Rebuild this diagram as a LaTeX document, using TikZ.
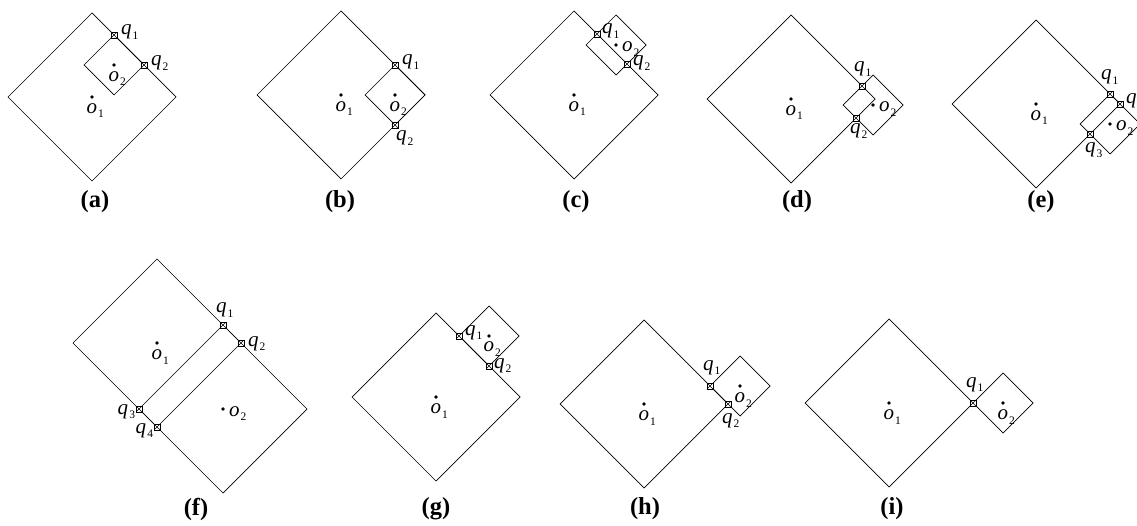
\documentclass[tikz,border=0pt]{standalone}
\usepackage{fontspec}
\setmainfont{Liberation Serif}
\newcommand\lb[2]{{\fontsize{21}{21}\selectfont\itshape #1}\kern1.2pt\raisebox{-4.5pt}{\fontsize{11.5}{11.5}\selectfont #2}}
\newcommand\dsq[2]{\draw[sqline] (#1) ++(-#2,0) -- ++(#2,-#2) -- ++(#2,#2) -- ++(-#2,#2) -- cycle;}
\begin{document}
\begin{tikzpicture}[x=1pt,y=-1pt,
  sqline/.style={line width=0.7pt,black},
  mk/.style={draw,fill=white,minimum size=6pt,inner sep=0pt,line width=0.5pt,
    path picture={\draw[line width=0.4pt] (path picture bounding box.south west) -- (path picture bounding box.north east)
      (path picture bounding box.north west) -- (path picture bounding box.south east);}},
  dot/.style={circle,fill=black,inner sep=0pt,minimum size=3.8pt},
  lbl/.style={anchor=base west,inner sep=0pt,outer sep=0pt},
  lblr/.style={anchor=base east,inner sep=0pt,outer sep=0pt},
  paneltag/.style={font=\fontsize{24.5}{24.5}\selectfont\bfseries,inner sep=0pt}]
\useasboundingbox (0,0) rectangle (1137,526);
\clip (0,0) rectangle (1137,526);

% ---------- (a)
\coordinate (a-o1) at (92,97);
\coordinate (a-o2) at (114,65);
\dsq{a-o1}{84}
\dsq{a-o2}{30}
\node[dot] (a-d1) at (a-o1) {};
\node[dot] (a-d2) at (a-o2) {};
\node[mk] (a-q1) at (114,35) {};
\node[mk] (a-q2) at (144,65) {};
\node[lbl] (a-lo1) at (86.5,113.5) {\lb{o}{1}};
\node[lbl] (a-lo2) at (108.5,81.5) {\lb{o}{2}};
\node[lbl] (a-lq1) at (121,35) {\lb{q}{1}};
\node[lbl] (a-lq2) at (151,66) {\lb{q}{2}};
\node[paneltag] (a-tag) at (95,202) {(a)};

% ---------- (b)
\coordinate (b-o1) at (341,95);
\coordinate (b-o2) at (395,95);
\dsq{b-o1}{84}
\dsq{b-o2}{30}
\node[dot] (b-d1) at (b-o1) {};
\node[dot] (b-d2) at (b-o2) {};
\node[mk] (b-q1) at (395,65) {};
\node[mk] (b-q2) at (395,125) {};
\node[lbl] (b-lo1) at (335.5,111.5) {\lb{o}{1}};
\node[lbl] (b-lo2) at (389.5,111.5) {\lb{o}{2}};
\node[lbl] (b-lq1) at (402,65) {\lb{q}{1}};
\node[lbl] (b-lq2) at (396,141) {\lb{q}{2}};
\node[paneltag] (b-tag) at (340,202) {(b)};

% ---------- (c)
\coordinate (c-o1) at (574,95);
\coordinate (c-o2) at (616,45);
\dsq{c-o1}{84}
\dsq{c-o2}{30}
\node[dot] (c-d1) at (c-o1) {};
\node[dot] (c-d2) at (c-o2) {};
\node[mk] (c-q1) at (597,34) {};
\node[mk] (c-q2) at (627,64) {};
\node[lbl] (c-lo1) at (568.5,111.5) {\lb{o}{1}};
\node[lbl] (c-lo2) at (622,52) {\lb{o}{2}};
\node[lbl] (c-lq1) at (602,34) {\lb{q}{1}};
\node[lbl] (c-lq2) at (633,66) {\lb{q}{2}};
\node[paneltag] (c-tag) at (576,202) {(c)};

% ---------- (d)
\coordinate (d-o1) at (791,99);
\coordinate (d-o2) at (873,105);
\dsq{d-o1}{84}
\dsq{d-o2}{30}
\node[dot] (d-d1) at (d-o1) {};
\node[dot] (d-d2) at (d-o2) {};
\node[mk] (d-q1) at (862,86) {};
\node[mk] (d-q2) at (856,118) {};
\node[lbl] (d-lo1) at (785.5,115.5) {\lb{o}{1}};
\node[lbl] (d-lo2) at (879,112) {\lb{o}{2}};
\node[lbl] (d-lq1) at (854,72) {\lb{q}{1}};
\node[lbl] (d-lq2) at (850,134) {\lb{q}{2}};
\node[paneltag] (d-tag) at (797,202) {(d)};

% ---------- (e)
\coordinate (e-o1) at (1036,104);
\coordinate (e-o2) at (1110,124);
\dsq{e-o1}{84}
\dsq{e-o2}{30}
\node[dot] (e-d1) at (e-o1) {};
\node[dot] (e-d2) at (e-o2) {};
\node[mk] (e-q1) at (1110,94) {};
\node[mk] (e-q2) at (1120,104) {};
\node[mk] (e-q3) at (1090,134) {};
\node[lbl] (e-lo1) at (1030.5,120.5) {\lb{o}{1}};
\node[lbl] (e-lo2) at (1116,131) {\lb{o}{2}};
\node[lbl] (e-lq1) at (1101,80) {\lb{q}{1}};
\node[lbl] (e-lq2) at (1126,104) {\lb{q}{2}};
\node[lbl] (e-lq3) at (1085,153) {\lb{q}{3}};
\node[paneltag] (e-tag) at (1041,202) {(e)};

% ---------- (f)
\coordinate (f-o1) at (157,343);
\coordinate (f-o2) at (223,409);
\dsq{f-o1}{84}
\dsq{f-o2}{84}
\node[dot] (f-d1) at (f-o1) {};
\node[dot] (f-d2) at (f-o2) {};
\node[mk] (f-q1) at (223,325) {};
\node[mk] (f-q2) at (241,343) {};
\node[mk] (f-q3) at (139,409) {};
\node[mk] (f-q4) at (157,427) {};
\node[lbl] (f-lo1) at (151.5,359.5) {\lb{o}{1}};
\node[lbl] (f-lo2) at (229,416) {\lb{o}{2}};
\node[lbl] (f-lq1) at (216,313) {\lb{q}{1}};
\node[lbl] (f-lq2) at (248,346) {\lb{q}{2}};
\node[lblr] (f-lq3) at (135,414) {\lb{q}{3}};
\node[lblr] (f-lq4) at (153,433) {\lb{q}{4}};
\node[paneltag] (f-tag) at (196,509) {(f)};

% ---------- (g)
\coordinate (g-o1) at (436,397);
\coordinate (g-o2) at (489,336);
\dsq{g-o1}{84}
\dsq{g-o2}{30}
\node[dot] (g-d1) at (g-o1) {};
\node[dot] (g-d2) at (g-o2) {};
\node[mk] (g-q1) at (459,336) {};
\node[mk] (g-q2) at (489,366) {};
\node[lbl] (g-lo1) at (430.5,413.5) {\lb{o}{1}};
\node[lbl] (g-lo2) at (483.5,352) {\lb{o}{2}};
\node[lbl] (g-lq1) at (465,335) {\lb{q}{1}};
\node[lbl] (g-lq2) at (494,368) {\lb{q}{2}};
\node[paneltag] (g-tag) at (436,509) {(g)};

% ---------- (h)
\coordinate (h-o1) at (644,404);
\coordinate (h-o2) at (740,386);
\dsq{h-o1}{84}
\dsq{h-o2}{30}
\node[dot] (h-d1) at (h-o1) {};
\node[dot] (h-d2) at (h-o2) {};
\node[mk] (h-q1) at (710,386) {};
\node[mk] (h-q2) at (728,404) {};
\node[lbl] (h-lo1) at (638.5,420.5) {\lb{o}{1}};
\node[lbl] (h-lo2) at (734.5,402.5) {\lb{o}{2}};
\node[lbl] (h-lq1) at (703,370) {\lb{q}{1}};
\node[lbl] (h-lq2) at (722,423) {\lb{q}{2}};
\node[paneltag] (h-tag) at (645,509) {(h)};

% ---------- (i)
\coordinate (i-o1) at (889,403);
\coordinate (i-o2) at (1003,403);
\dsq{i-o1}{84}
\dsq{i-o2}{30}
\node[dot] (i-d1) at (i-o1) {};
\node[dot] (i-d2) at (i-o2) {};
\node[mk] (i-q1) at (973,403) {};
\node[lbl] (i-lo1) at (883.5,419.5) {\lb{o}{1}};
\node[lbl] (i-lo2) at (997.5,419.5) {\lb{o}{2}};
\node[lbl] (i-lq1) at (966,387) {\lb{q}{1}};
\node[paneltag] (i-tag) at (892,509) {(i)};
\end{tikzpicture}
\end{document}
